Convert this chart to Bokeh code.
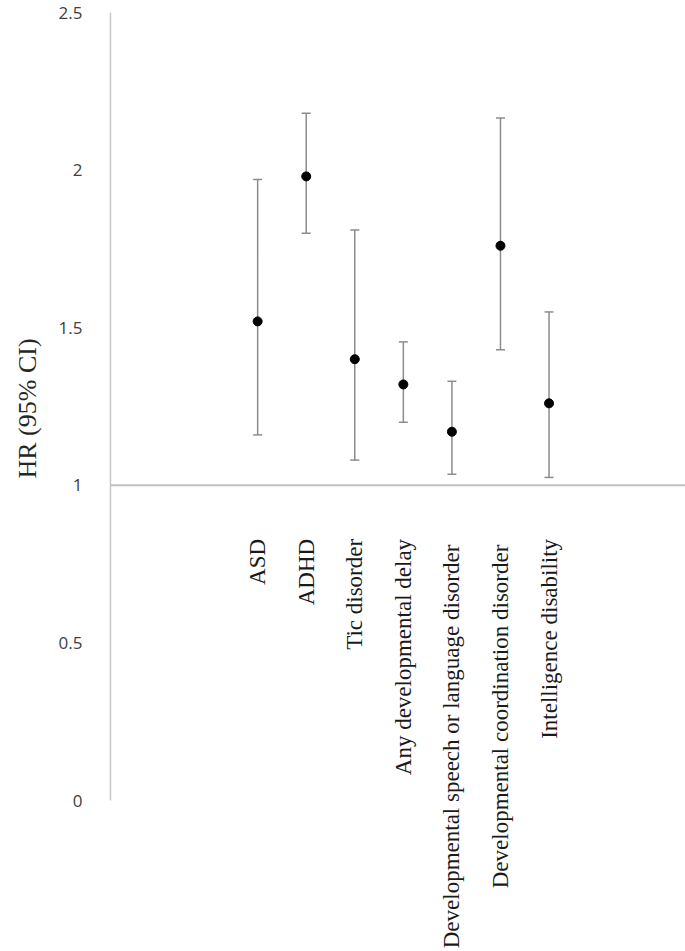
import math
from bokeh.plotting import figure
from bokeh.models import Range1d, FixedTicker, Span, Whisker, TeeHead, ColumnDataSource, Title
from bokeh.core.properties import value
from bokeh.embed import file_html
from bokeh.resources import INLINE

categories = ["ASD", "ADHD", "Tic disorder", "Any developmental delay",
              "Developmental  speech or language disorder",
              "Developmental  coordination disorder", "Intelligence disability"]
hr = [1.52, 1.98, 1.40, 1.32, 1.17, 1.76, 1.26]
lower = [1.16, 1.80, 1.08, 1.20, 1.035, 1.43, 1.025]
upper = [1.97, 2.18, 1.81, 1.455, 1.33, 2.165, 1.55]
y_ticks = [0, 0.5, 1, 1.5, 2, 2.5]
ref_line = 1
label_y = 0.83

xs = list(range(1, len(categories) + 1))
src = ColumnDataSource(dict(x=xs, hr=hr, lower=lower, upper=upper, cat=categories,
                            ly=[label_y] * len(xs)))

p = figure(width=685, height=951, output_backend="svg", toolbar_location=None,
           x_range=Range1d(-2.03, 9.81), y_range=Range1d(-0.479, 2.5),
           min_border_top=12, min_border_bottom=0, min_border_right=0, min_border_left=110)
p.outline_line_color = None
p.grid.visible = False
p.xaxis.visible = False

ya = p.yaxis[0]
ya.bounds = (0, 2.5)
ya.ticker = FixedTicker(ticks=y_ticks)
ya.major_tick_line_color = None
ya.minor_tick_line_color = None
ya.axis_line_color = "#c8c8c8"
ya.axis_line_width = 1.5
ya.major_label_standoff = 22
ya.major_label_text_font = "Open Sans"
ya.major_label_text_font_size = "17px"
ya.major_label_text_color = "#404040"

ttl = Title(text="HR (95% CI)", align="left", offset=473, standoff=23,
            vertical_align="top",
            text_font="Liberation Serif", text_font_size="26px",
            text_font_style="normal", text_color="#262626")
p.add_layout(ttl, "left")

p.add_layout(Span(location=ref_line, dimension="width", line_color="#c0c0c0", line_width=2))

w = Whisker(source=src, base="x", lower="lower", upper="upper", dimension="height",
            line_color="#8c8c8c", line_width=1.5,
            lower_head=TeeHead(size=9, line_color="#8c8c8c", line_width=1.5),
            upper_head=TeeHead(size=9, line_color="#8c8c8c", line_width=1.5))
p.add_layout(w)

p.scatter("x", "hr", source=src, size=9, color="black")

p.text("x", "ly", text="cat", source=src, angle=math.pi / 2,
       text_font=value("Liberation Serif"), text_font_size="23px",
       text_align="right", text_baseline="middle", text_color="#1a1a1a")

open("out.html", "w").write(file_html(p, INLINE))
